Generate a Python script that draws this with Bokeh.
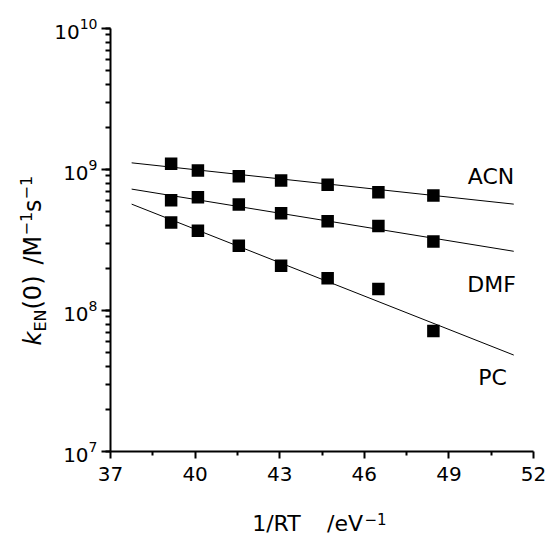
import numpy as np
from bokeh.plotting import figure
from bokeh.models import FixedTicker, LogTicker, Label, Range1d
from bokeh.layouts import column, row
from bokeh.embed import file_html
from bokeh.resources import INLINE

# ---- data ----
inv_rt = [39.15, 40.10, 41.55, 43.05, 44.70, 46.50, 48.45]
k_acn = [1.10e9, 9.85e8, 8.95e8, 8.35e8, 7.80e8, 6.90e8, 6.55e8]
k_dmf = [6.05e8, 6.35e8, 5.65e8, 4.90e8, 4.30e8, 3.97e8, 3.09e8]
k_pc = [4.20e8, 3.68e8, 2.88e8, 2.08e8, 1.69e8, 1.42e8, 7.15e7]
fit_x = [37.75, 51.3]
fit_acn = [1.115e9, 5.68e8]
fit_dmf = [7.26e8, 2.63e8]
fit_pc = [5.68e8, 4.83e7]
x_ticks = [37, 40, 43, 46, 49, 52]
x_minor = [38.5, 41.5, 44.5, 47.5, 50.5]
series_names = ["ACN", "DMF", "PC"]

FONT = "DejaVu Sans"
W, H = 548, 536
YLAB_W = 50          # strip holding the y-axis title
MAIN_H = 490         # height of the row holding the plot
FRAME_L, FRAME_T, FRAME_R, FRAME_B = 110, 28, 533, 451
SHIFT = 0.36         # label anchor sits this many em above the baseline

main = figure(width=W - YLAB_W, height=MAIN_H, x_range=(37, 52),
              y_range=(1e7, 1e10), y_axis_type="log", output_backend="svg",
              toolbar_location=None, frame_align=False,
              min_border_left=FRAME_L - YLAB_W, min_border_right=W - FRAME_R,
              min_border_top=FRAME_T, min_border_bottom=MAIN_H - FRAME_B)
main.outline_line_color = None
main.grid.visible = False

main.xaxis.ticker = FixedTicker(ticks=x_ticks, minor_ticks=x_minor)
main.yaxis.ticker = LogTicker(num_minor_ticks=10)

for ax in main.axis:
    ax.axis_line_width = 2
    ax.axis_line_color = "black"
    ax.major_tick_line_width = 2
    ax.major_tick_line_color = "black"
    ax.minor_tick_line_width = 2
    ax.minor_tick_line_color = "black"
    ax.major_tick_in = 0
    ax.minor_tick_in = 0
    ax.major_label_text_font = FONT
    ax.major_label_text_font_size = "20px"
    ax.major_label_text_color = "black"
main.xaxis.major_tick_out = 7
main.xaxis.minor_tick_out = 4
main.xaxis.major_label_standoff = 8
main.yaxis.major_tick_out = 9
main.yaxis.minor_tick_out = 5
main.yaxis.major_label_standoff = 4

for ys, fy in ((k_acn, fit_acn), (k_dmf, fit_dmf), (k_pc, fit_pc)):
    main.line(fit_x, fy, line_color="black", line_width=1)
    main.scatter(inv_rt, ys, marker="square", size=12.5, fill_color="black",
                 line_color="black", line_width=0)

# series names (inside the frame), page-pixel baselines
for name, cx, cy in zip(series_names, (490.5, 491, 492), (184, 292, 385)):
    main.add_layout(Label(x=cx - FRAME_L, y=FRAME_B - (cy - SHIFT * 22),
                          x_units="screen", y_units="screen", text=name,
                          text_font=FONT, text_font_size="22px",
                          text_align="center", text_baseline="alphabetic",
                          text_color="black"))


def strip(w, h, x0, y0):
    """A blank figure whose data coordinates equal page pixels."""
    f = figure(width=w, height=h, x_range=Range1d(x0, x0 + w),
               y_range=Range1d(y0 + h, y0), output_backend="svg",
               toolbar_location=None, x_axis_location=None,
               y_axis_location=None, min_border=0, frame_align=False)
    f.min_border_left = f.min_border_right = 0
    f.min_border_top = f.min_border_bottom = 0
    f.outline_line_color = None
    f.grid.visible = False
    return f


def put(f, text, cx, cy, size, angle=0.0, style="normal"):
    # (cx, cy) is the wanted start of the baseline in page pixels
    if angle:
        cx -= SHIFT * size
    else:
        cy -= SHIFT * size
    f.add_layout(Label(x=cx, y=cy, text=text, text_font=FONT,
                       text_font_size=f"{size}px", text_font_style=style,
                       angle=angle, text_align="left",
                       text_baseline="alphabetic", text_color="black"))


# y axis title strip (page x 0..50, y 0..490)
ylab = strip(YLAB_W, MAIN_H, 0, 0)
a = np.pi / 2
bx = 41
put(ylab, "k", bx, 345, 24, a, "italic")
put(ylab, "EN", bx + 5, 331, 16, a)
put(ylab, "(0)", bx, 309, 24, a)
put(ylab, "/M", bx, 264, 24, a)
put(ylab, "\u22121", bx - 10, 235, 16, a)
put(ylab, "s", bx, 211.5, 24, a)
put(ylab, "\u22121", bx - 10, 199, 16, a)

# x axis title strip (page x 0..548, y 490..536)
xlab = strip(W, H - MAIN_H, 0, MAIN_H)
put(xlab, "1/RT", 251.7, 531, 22)
put(xlab, "/eV", 326.5, 531, 22)
put(xlab, "\u22121", 364, 524, 15)

layout = column(row(ylab, main, spacing=0), xlab, spacing=0)
open("out.html", "w").write(file_html(layout, INLINE))
